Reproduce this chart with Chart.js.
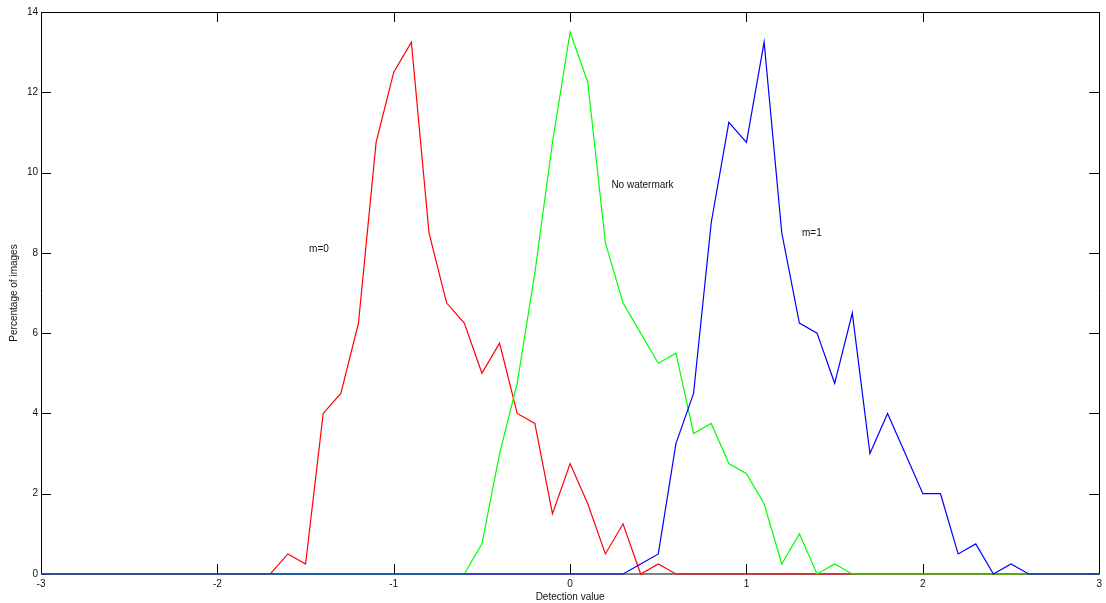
<!DOCTYPE html>
<html>
<head>
<meta charset="utf-8">
<style>
  html, body { margin: 0; padding: 0; background: #fff; }
  #wrap { width: 1106px; height: 603px; }
</style>
<script src="https://cdn.jsdelivr.net/npm/chart.js@4/dist/chart.umd.min.js"></script>
</head>
<body>
<div id="wrap"><canvas id="c" width="1106" height="603"></canvas></div>
<script>
// Detection value bins (x)
const detectionValues = [
  -3.0, -2.9, -2.8, -2.7, -2.6, -2.5, -2.4, -2.3, -2.2, -2.1,
  -2.0, -1.9, -1.8, -1.7, -1.6, -1.5, -1.4, -1.3, -1.2, -1.1,
  -1.0, -0.9, -0.8, -0.7, -0.6, -0.5, -0.4, -0.3, -0.2, -0.1,
   0.0,  0.1,  0.2,  0.3,  0.4,  0.5,  0.6,  0.7,  0.8,  0.9,
   1.0,  1.1,  1.2,  1.3,  1.4,  1.5,  1.6,  1.7,  1.8,  1.9,
   2.0,  2.1,  2.2,  2.3,  2.4,  2.5,  2.6,  2.7,  2.8,  2.9,
   3.0
];

// Percentage of images, m=0 (red)
const m0Values = [
  0, 0, 0, 0, 0, 0, 0, 0, 0, 0,
  0, 0, 0, 0, 0.5, 0.25, 4.0, 4.5, 6.25, 10.75,
  12.5, 13.25, 8.5, 6.75, 6.25, 5.0, 5.75, 4.0, 3.75, 1.5,
  2.75, 1.75, 0.5, 1.25, 0, 0.25, 0, 0, 0, 0,
  0, 0, 0, 0, 0, 0, 0, 0, 0, 0,
  0, 0, 0, 0, 0, 0, 0, 0, 0, 0,
  0
];

// Percentage of images, no watermark (green)
const noWatermarkValues = [
  0, 0, 0, 0, 0, 0, 0, 0, 0, 0,
  0, 0, 0, 0, 0, 0, 0, 0, 0, 0,
  0, 0, 0, 0, 0, 0.75, 3.0, 4.75, 7.5, 10.75,
  13.5, 12.25, 8.25, 6.75, 6.0, 5.25, 5.5, 3.5, 3.75, 2.75,
  2.5, 1.75, 0.25, 1.0, 0, 0.25, 0, 0, 0, 0,
  0, 0, 0, 0, 0, 0, 0, 0, 0, 0,
  0
];

// Percentage of images, m=1 (blue)
const m1Values = [
  0, 0, 0, 0, 0, 0, 0, 0, 0, 0,
  0, 0, 0, 0, 0, 0, 0, 0, 0, 0,
  0, 0, 0, 0, 0, 0, 0, 0, 0, 0,
  0, 0, 0, 0, 0.25, 0.5, 3.25, 4.5, 8.75, 11.25,
  10.75, 13.25, 8.5, 6.25, 6.0, 4.75, 6.5, 3.0, 4.0, 3.0,
  2.0, 2.0, 0.5, 0.75, 0, 0.25, 0, 0, 0, 0,
  0
];

const xTickValues = [-3, -2, -1, 0, 1, 2, 3];
const yTickValues = [0, 2, 4, 6, 8, 10, 12, 14];

const seriesNames = ['m=0', 'No watermark', 'm=1'];
const annotationTexts = ['m=0', 'No watermark', 'm=1'];
const annotationX = [-1.48, 0.234, 1.315];
const annotationY = [8.1, 9.69, 8.49];

const FONT = '"Liberation Sans", Arial, Helvetica, sans-serif';
const TXT = '#111';

function toPoints(vals) {
  return detectionValues.map((x, i) => ({ x: x, y: vals[i] }));
}

const framePlugin = {
  id: 'frame',
  beforeDatasetsDraw(chart) {
    const { ctx, chartArea: a, scales } = chart;
    ctx.save();
    ctx.strokeStyle = '#000';
    ctx.lineWidth = 1;
    ctx.beginPath();
    ctx.rect(Math.round(a.left) + 0.5, Math.round(a.top) + 0.5,
             Math.round(a.right - a.left), Math.round(a.bottom - a.top) - 0.5);
    ctx.stroke();
    const L = 10;
    ctx.beginPath();
    xTickValues.forEach(v => {
      const px = Math.round(scales.x.getPixelForValue(v)) + 0.5;
      ctx.moveTo(px, a.bottom); ctx.lineTo(px, a.bottom - L);
      ctx.moveTo(px, a.top); ctx.lineTo(px, a.top + L);
    });
    yTickValues.forEach(v => {
      const py = Math.round(scales.y.getPixelForValue(v)) + 0.5;
      ctx.moveTo(a.left, py); ctx.lineTo(a.left + L, py);
      ctx.moveTo(a.right, py); ctx.lineTo(a.right - L, py);
    });
    ctx.stroke();
    ctx.restore();
  }
};

const textPlugin = {
  id: 'texts',
  afterDatasetsDraw(chart) {
    const { ctx, scales } = chart;
    ctx.save();
    ctx.fillStyle = TXT;
    ctx.font = '10px ' + FONT;
    ctx.textAlign = 'left';
    ctx.textBaseline = 'middle';
    annotationTexts.forEach((t, i) => {
      ctx.fillText(t, scales.x.getPixelForValue(annotationX[i]),
                      scales.y.getPixelForValue(annotationY[i]));
    });
    ctx.restore();
  }
};

new Chart(document.getElementById('c'), {
  type: 'line',
  data: {
    datasets: [
      { label: seriesNames[0], data: toPoints(m0Values), borderColor: '#ff0000', order: 3, clip: false },
      { label: seriesNames[1], data: toPoints(noWatermarkValues), borderColor: '#00ff00', order: 2, clip: false },
      { label: seriesNames[2], data: toPoints(m1Values), borderColor: '#0000ff', order: 1, clip: false }
    ]
  },
  options: {
    responsive: false,
    animation: false,
    devicePixelRatio: 1,
    layout: { padding: { top: 12, right: 4, left: 0, bottom: 0 } },
    elements: {
      line: { borderWidth: 1.2, tension: 0, fill: false },
      point: { radius: 0, hoverRadius: 0 }
    },
    plugins: { legend: { display: false }, tooltip: { enabled: false } },
    scales: {
      x: {
        type: 'linear', min: -3, max: 3,
        afterBuildTicks(s) { s.ticks = xTickValues.map(v => ({ value: v })); },
        afterFit(s) { s.height = 29; },
        grid: { display: false, drawTicks: false },
        border: { display: false },
        ticks: { color: TXT, font: { family: FONT, size: 10 }, padding: 4, maxRotation: 0 },
        title: { display: true, text: 'Detection value', color: TXT,
                 font: { family: FONT, size: 10 }, padding: { top: 0, bottom: 0 } }
      },
      y: {
        type: 'linear', min: 0, max: 14,
        afterBuildTicks(s) { s.ticks = yTickValues.map(v => ({ value: v })); },
        afterFit(s) { s.width = 41; },
        grid: { display: false, drawTicks: false },
        border: { display: false },
        ticks: { color: TXT, font: { family: FONT, size: 10 }, padding: 3 },
        title: { display: true, text: 'Percentage of images', color: TXT,
                 font: { family: FONT, size: 10 }, padding: { top: 8, bottom: 0 } }
      }
    }
  },
  plugins: [framePlugin, textPlugin]
});
</script>
</body>
</html>
